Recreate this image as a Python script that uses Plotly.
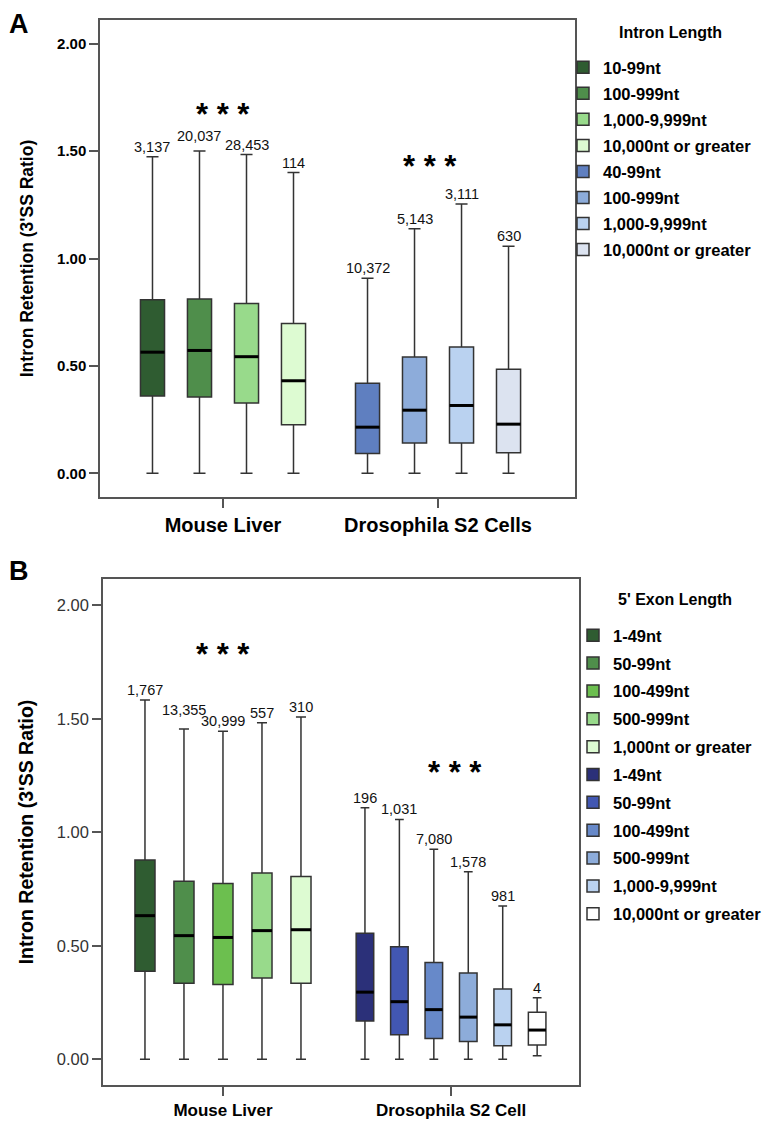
import plotly.graph_objects as go

# ---------------- DATA ----------------
# Panel A: intron length
A_groups = ["Mouse Liver", "Drosophila S2 Cells"]
A_mouse_labels = ["10-99nt", "100-999nt", "1,000-9,999nt", "10,000nt or greater"]
A_mouse_q1 = [0.360, 0.355, 0.327, 0.226]
A_mouse_median = [0.564, 0.572, 0.543, 0.431]
A_mouse_q3 = [0.808, 0.812, 0.790, 0.698]
A_mouse_low = [0.0, 0.0, 0.0, 0.0]
A_mouse_up = [1.474, 1.500, 1.484, 1.400]
A_mouse_n = ["3,137", "20,037", "28,453", "114"]

A_dros_labels = ["40-99nt", "100-999nt", "1,000-9,999nt", "10,000nt or greater"]
A_dros_q1 = [0.093, 0.141, 0.141, 0.096]
A_dros_median = [0.215, 0.294, 0.316, 0.229]
A_dros_q3 = [0.419, 0.541, 0.588, 0.484]
A_dros_low = [0.0, 0.0, 0.0, 0.0]
A_dros_up = [0.908, 1.138, 1.254, 1.057]
A_dros_n = ["10,372", "5,143", "3,111", "630"]

# Panel B: 5' exon length
B_groups = ["Mouse Liver", "Drosophila S2 Cell"]
B_mouse_labels = ["1-49nt", "50-99nt", "100-499nt", "500-999nt", "1,000nt or greater"]
B_mouse_q1 = [0.388, 0.335, 0.330, 0.358, 0.335]
B_mouse_median = [0.633, 0.545, 0.537, 0.567, 0.571]
B_mouse_q3 = [0.878, 0.785, 0.775, 0.821, 0.805]
B_mouse_low = [0.0, 0.0, 0.0, 0.0, 0.0]
B_mouse_up = [1.583, 1.455, 1.445, 1.483, 1.508]
B_mouse_n = ["1,767", "13,355", "30,999", "557", "310"]

B_dros_labels = ["1-49nt", "50-99nt", "100-499nt", "500-999nt", "1,000-9,999nt", "10,000nt or greater"]
B_dros_q1 = [0.169, 0.108, 0.092, 0.079, 0.060, 0.063]
B_dros_median = [0.296, 0.254, 0.219, 0.186, 0.152, 0.129]
B_dros_q3 = [0.556, 0.496, 0.427, 0.380, 0.310, 0.208]
B_dros_low = [0.0, 0.0, 0.0, 0.0, 0.0, 0.016]
B_dros_up = [1.108, 1.057, 0.925, 0.826, 0.675, 0.271]
B_dros_n = ["196", "1,031", "7,080", "1,578", "981", "4"]

y_tick_vals = [0.0, 0.5, 1.0, 1.5, 2.0]
y_tick_text = ["0.00", "0.50", "1.00", "1.50", "2.00"]
y_title = "Intron Retention (3'SS Ratio)"
A_legend_title = "Intron Length"
B_legend_title = "5' Exon Length"
stars_text = "* * *"

# ---------------- STYLE ----------------
A_mouse_colors = ["#2F5C31", "#4F8E4B", "#98DA8B", "#DDFBD2"]
A_dros_colors = ["#5F7FC0", "#8DACDA", "#BAD2F0", "#DCE3F0"]
B_mouse_colors = ["#2F5C31", "#4F8E4B", "#6CBF4F", "#98DA8B", "#DDFBD2"]
B_dros_colors = ["#2B3079", "#4257B2", "#6789C9", "#8DACDA", "#BAD2F0", "#FFFFFF"]

FONT = "Liberation Sans, Arial, sans-serif"
EDGE = "#333333"
FRAME = "#555555"
OFF = 8                      # page body margin of the html page
W, H = 777 - OFF, 1121 - OFF

fig = go.Figure()


def px_x(p):
    return (p - OFF) / W


def px_y(p):
    return 1 - (p - OFF) / H


def add_group(center, step, width, labels, q1, med, q3, low, up, ns, colors,
              xa, ya, legend, gname, raised, raise_px):
    n = len(labels)
    pos = [center + (i - (n - 1) / 2) * step for i in range(n)]
    for i in range(n):
        fig.add_trace(go.Box(
            x=[pos[i]], q1=[q1[i]], median=[med[i]], q3=[q3[i]],
            lowerfence=[low[i]], upperfence=[up[i]],
            width=width, whiskerwidth=0.5, boxpoints=False,
            fillcolor=colors[i], line=dict(color=EDGE, width=1.5),
            name=labels[i], legend=legend, legendgroup=f"{gname}{i}",
            xaxis=xa, yaxis=ya, hoverinfo="skip",
        ))
    # thick median lines
    mx, my = [], []
    for i in range(n):
        mx += [pos[i] - width / 2, pos[i] + width / 2, None]
        my += [med[i], med[i], None]
    fig.add_trace(go.Scatter(x=mx, y=my, mode="lines",
                             line=dict(color="#000000", width=3),
                             showlegend=False, xaxis=xa, yaxis=ya,
                             hoverinfo="skip"))
    # count labels
    for i in range(n):
        fig.add_annotation(x=pos[i], y=up[i], xref=xa, yref=ya,
                           text=ns[i], showarrow=False,
                           xanchor="center", yanchor="bottom",
                           yshift=(raise_px if i in raised else 0),
                           font=dict(family=FONT, size=14.5, color="#111111"))


# Panel A
add_group(0, 0.2186, 0.112, A_mouse_labels, A_mouse_q1, A_mouse_median, A_mouse_q3,
          A_mouse_low, A_mouse_up, A_mouse_n, A_mouse_colors, "x", "y", "legend", "am", [1], 5)
add_group(1, 0.2186, 0.112, A_dros_labels, A_dros_q1, A_dros_median, A_dros_q3,
          A_dros_low, A_dros_up, A_dros_n, A_dros_colors, "x", "y", "legend", "ad", [], 0)
# Panel B
add_group(0, 0.171, 0.088, B_mouse_labels, B_mouse_q1, B_mouse_median, B_mouse_q3,
          B_mouse_low, B_mouse_up, B_mouse_n, B_mouse_colors, "x2", "y2", "legend2", "bm", [1], 9)
add_group(1, 0.151, 0.077, B_dros_labels, B_dros_q1, B_dros_median, B_dros_q3,
          B_dros_low, B_dros_up, B_dros_n, B_dros_colors, "x2", "y2", "legend2", "bd", [], 0)

# significance stars
stars = [("x", "y", 0.0, 1.672), ("x", "y", 0.963, 1.430),
         ("x2", "y2", 0.0, 1.782), ("x2", "y2", 1.018, 1.265)]
for xa, ya, xv, yv in stars:
    fig.add_annotation(x=xv, y=yv, xref=xa, yref=ya, text=stars_text, showarrow=False,
                       xanchor="center", yanchor="middle",
                       font=dict(family=FONT, size=31, color="#000000", weight="bold"))

# panel letters
for letter, cx, cy in [("A", 19, 24), ("B", 19, 571)]:
    fig.add_annotation(x=px_x(cx), y=px_y(cy), xref="paper", yref="paper", text=letter,
                       showarrow=False, xanchor="center", yanchor="middle",
                       font=dict(family=FONT, size=27, color="#000", weight="bold"))

# legend titles
for ttl, cx, cy in [(A_legend_title, 670, 33), (B_legend_title, 675, 599)]:
    fig.add_annotation(x=px_x(cx), y=px_y(cy), xref="paper", yref="paper", text=ttl,
                       showarrow=False, xanchor="center", yanchor="middle",
                       font=dict(family=FONT, size=16, color="#000", weight="bold"))

axis_common = dict(showline=True, mirror=True, linecolor=FRAME, linewidth=1.5,
                   showgrid=False, zeroline=False, ticks="outside", ticklen=9,
                   tickcolor=FRAME, tickwidth=1.5, automargin=False)

fig.update_layout(
    width=W, height=H,
    margin=dict(l=0, r=0, t=0, b=0, autoexpand=False),
    paper_bgcolor="white", plot_bgcolor="white",
    showlegend=True,
    font=dict(family=FONT, color="#000"),
    xaxis=dict(domain=[px_x(100), px_x(575)], range=[-0.572, 1.637],
               tickvals=[0, 1], ticktext=A_groups, anchor="y",
               tickfont=dict(family=FONT, size=20, weight="bold"), **axis_common),
    yaxis=dict(domain=[px_y(497), px_y(20)], range=[-0.11, 2.11],
               tickvals=y_tick_vals, ticktext=y_tick_text, anchor="x",
               tickfont=dict(family=FONT, size=15, weight="bold"),
               title=dict(text=y_title, font=dict(family=FONT, size=17.5, weight="bold"), standoff=19),
               **axis_common),
    xaxis2=dict(domain=[px_x(103), px_x(579)], range=[-0.526, 1.561],
                tickvals=[0, 1], ticktext=B_groups, anchor="y2",
                tickfont=dict(family=FONT, size=17, weight="bold"), **axis_common),
    yaxis2=dict(domain=[px_y(1085), px_y(579)], range=[-0.113, 2.116],
                tickvals=y_tick_vals, ticktext=y_tick_text, anchor="x2",
                tickfont=dict(family=FONT, size=16.5, color="#333"),
                title=dict(text=y_title, font=dict(family=FONT, size=19.5, weight="bold"), standoff=18),
                **axis_common),
    legend=dict(x=px_x(563), y=px_y(50), xanchor="left", yanchor="top",
                font=dict(family=FONT, size=16.5, weight="bold", color="#000"),
                tracegroupgap=1.6, bgcolor="rgba(0,0,0,0)"),
    legend2=dict(x=px_x(573), y=px_y(618), xanchor="left", yanchor="top",
                 font=dict(family=FONT, size=16.5, weight="bold", color="#000"),
                 tracegroupgap=3.4, bgcolor="rgba(0,0,0,0)"),
)

fig.write_html("out.html")
